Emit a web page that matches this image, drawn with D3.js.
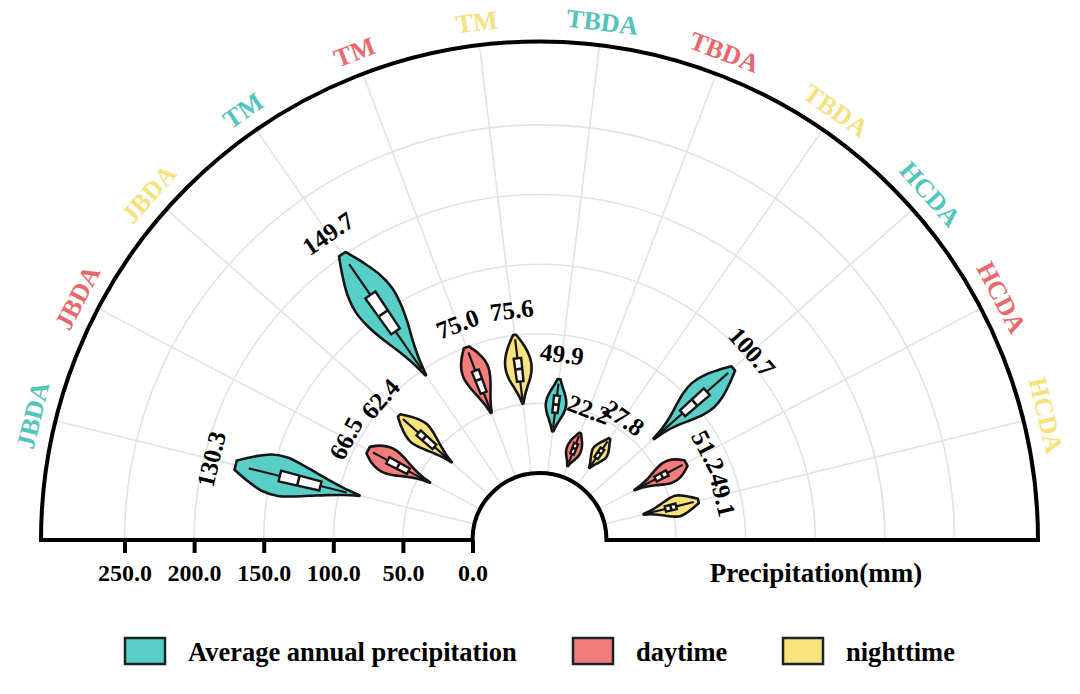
<!DOCTYPE html>
<html>
<head>
<meta charset="utf-8">
<script src="https://cdn.jsdelivr.net/npm/d3@7"></script>
<style>
  body { margin: 0; background: #fff; }
  text { font-family: "Liberation Serif", "Times New Roman", serif; font-weight: bold; }
</style>
</head>
<body>
<div id="viz_area"></div>
<script>
var width = 1080
var height = 694
var cx = 539.5, cy = 540
var innerR = 67, outerR = 498.5

// one violin per region x period, left to right around the half circle
var regions = ["JBDA", "JBDA", "JBDA", "TM", "TM", "TM", "TBDA", "TBDA", "TBDA", "HCDA", "HCDA", "HCDA"]
var periods = ["Average annual precipitation", "daytime", "nighttime"]
var periodIdx = [0, 1, 2, 0, 1, 2, 0, 1, 2, 0, 1, 2]

var vMin    = [85.1, 40.7, 36.2, 95.8, 49.6, 50.6, 30.5,  8.8, 14.9,  61.6, 29.0, 28.9]
var vMax    = [176.7, 90.9, 86.7, 201.4, 99.9, 100.3, 68.3, 34.1, 40.4, 137.8, 70.8, 69.4]
var whiskLo = [94.5, 44.0, 40.0, 101.0, 52.0, 53.0, 33.0, 11.0, 17.0, 66.0, 32.0, 32.0]
var q1      = [114.0, 58.3, 52.7, 134.0, 65.1, 66.6, 43.9, 18.0, 23.5, 89.2, 46.0, 45.0]
var median  = [130.3, 66.5, 62.4, 149.7, 75.0, 75.6, 49.9, 22.2, 27.8, 100.7, 51.2, 49.1]
var q3      = [144.0, 75.0, 67.9, 165.8, 81.9, 83.4, 56.3, 26.0, 31.5, 112.5, 55.5, 53.0]
var whiskHi = [167.0, 87.0, 83.0, 192.6, 96.0, 97.0, 65.0, 32.0, 38.0, 133.0, 68.0, 66.0]

// relative violin width at 9 evenly spaced values from vMin to vMax
var density = [
  [0.03, 0.22, 0.45, 0.68, 0.88, 1.00, 0.90, 0.58, 0.20],
  [0.03, 0.15, 0.35, 0.60, 0.85, 1.00, 0.95, 0.70, 0.25],
  [0.03, 0.20, 0.45, 0.70, 0.92, 1.00, 0.82, 0.50, 0.12],
  [0.03, 0.25, 0.52, 0.80, 0.97, 1.00, 0.82, 0.50, 0.15],
  [0.05, 0.25, 0.50, 0.75, 0.93, 1.00, 0.88, 0.58, 0.18],
  [0.05, 0.30, 0.60, 0.88, 1.00, 0.95, 0.75, 0.45, 0.10],
  [0.08, 0.35, 0.65, 0.90, 1.00, 0.90, 0.65, 0.35, 0.12],
  [0.08, 0.35, 0.70, 0.95, 1.00, 0.90, 0.70, 0.40, 0.12],
  [0.06, 0.30, 0.60, 0.85, 1.00, 0.90, 0.65, 0.35, 0.10],
  [0.05, 0.18, 0.42, 0.72, 0.95, 1.00, 0.82, 0.50, 0.15],
  [0.04, 0.15, 0.35, 0.60, 0.85, 1.00, 0.95, 0.68, 0.25],
  [0.04, 0.20, 0.42, 0.68, 0.90, 1.00, 0.80, 0.50, 0.18]
]

var tickValues = [0, 50, 100, 150, 200, 250]
var cmap = ["#57CFC7", "#F47C7A", "#F8E37E"]
var labelColors = ["#52C4BB", "#E8686B", "#F5E27E"]

var svg = d3.select("#viz_area")
  .append("svg")
  .attr("width", width)
  .attr("height", height)
  .attr("viewBox", [0, 0, width, height])
  .style("background-color", "white")

var scA = d3.scalePoint()
  .domain(d3.range(regions.length))
  .range([-Math.PI / 2, Math.PI / 2])
  .padding(1)

var scR = d3.scaleLinear()
  .domain([0, 310])
  .range([innerR, outerR])

var step = scA.step()
var halfW = 0.31 * step
var boxW = 0.085 * step

var g = svg.append("g").attr("transform", `translate(${cx},${cy})`)

var radialLine = d3.lineRadial().angle(d => d[0]).radius(d => d[1])

// grid
var grid = g.append("g")
  .attr("fill", "none")
  .attr("stroke", "#e3e3e3")
  .attr("stroke-width", 1.6)

grid.selectAll(".garc")
  .data(tickValues.slice(1))
  .enter().append("path")
  .attr("class", "garc")
  .attr("d", function (d) {
    var p = d3.path()
    p.arc(0, 0, scR(d), Math.PI, 2 * Math.PI)
    return p.toString()
  })

grid.selectAll(".gray")
  .data(d3.range(regions.length))
  .enter().append("path")
  .attr("class", "gray")
  .attr("d", i => radialLine([[scA(i), innerR], [scA(i), outerR]]))

// panel border
g.append("path")
  .attr("d", d3.arc()({ innerRadius: innerR, outerRadius: outerR, startAngle: -Math.PI / 2, endAngle: Math.PI / 2 }))
  .attr("fill", "none")
  .attr("stroke", "black")
  .attr("stroke-width", 4)

// violins: each side is a smooth curve, the two ends stay sharp
var sideLine = d3.lineRadial()
  .angle(d => d[0])
  .radius(d => d[1])
  .curve(d3.curveCatmullRom.alpha(0.5))

function violinPath(i) {
  var dens = density[i]
  var n = dens.length
  var a = scA(i)
  var right = [], left = []
  for (let j = 0; j < n; j++) {
    var v = vMin[i] + (vMax[i] - vMin[i]) * j / (n - 1)
    right.push([a + dens[j] * halfW, scR(v)])
    left.unshift([a - dens[j] * halfW, scR(v)])
  }
  return sideLine(right) + sideLine(left).replace(/^M/, "L") + "Z"
}

var vg = g.append("g")
vg.selectAll(".violin")
  .data(d3.range(regions.length))
  .enter().append("path")
  .attr("class", "violin")
  .attr("d", violinPath)
  .attr("fill", i => cmap[periodIdx[i]])
  .attr("stroke", "#151515")
  .attr("stroke-width", 2.6)
  .attr("stroke-linejoin", "round")

// whiskers
vg.selectAll(".whisk")
  .data(d3.range(regions.length))
  .enter().append("path")
  .attr("class", "whisk")
  .attr("d", i => radialLine([[scA(i), scR(whiskLo[i])], [scA(i), scR(q1[i])]]) +
                  radialLine([[scA(i), scR(q3[i])], [scA(i), scR(whiskHi[i])]]))
  .attr("fill", "none")
  .attr("stroke", "#151515")
  .attr("stroke-width", 2.2)

// boxes
vg.selectAll(".box")
  .data(d3.range(regions.length))
  .enter().append("path")
  .attr("class", "box")
  .attr("d", i => d3.arc()({ innerRadius: scR(q1[i]), outerRadius: scR(q3[i]), startAngle: scA(i) - boxW, endAngle: scA(i) + boxW }))
  .attr("fill", "white")
  .attr("stroke", "#151515")
  .attr("stroke-width", 2.4)

vg.selectAll(".med")
  .data(d3.range(regions.length))
  .enter().append("path")
  .attr("class", "med")
  .attr("d", i => radialLine([[scA(i) - boxW, scR(median[i])], [scA(i) + boxW, scR(median[i])]]))
  .attr("stroke", "#151515")
  .attr("stroke-width", 2.6)

// value labels
function polarXY(a, r) {
  return [r * Math.sin(a), -r * Math.cos(a)]
}

g.append("g").selectAll("text")
  .data(d3.range(regions.length))
  .enter().append("text")
  .attr("transform", function (i) {
    var p = polarXY(scA(i), scR(vMax[i]) + 25)
    return `translate(${p[0]},${p[1]}) rotate(${scA(i) * 180 / Math.PI})`
  })
  .attr("text-anchor", "middle")
  .attr("dominant-baseline", "central")
  .style("font-size", "25px")
  .attr("fill", "black")
  .text(i => d3.format(".1f")(median[i]))

// category labels
g.append("g").selectAll("text")
  .data(d3.range(regions.length))
  .enter().append("text")
  .attr("transform", function (i) {
    var p = polarXY(scA(i), outerR + 23)
    return `translate(${p[0]},${p[1]}) rotate(${scA(i) * 180 / Math.PI})`
  })
  .attr("text-anchor", "middle")
  .attr("dominant-baseline", "central")
  .style("font-size", "26px")
  .attr("fill", i => labelColors[periodIdx[i]])
  .text(i => regions[i])

// radial axis along the left baseline
var scX = d3.scaleLinear()
  .domain(scR.domain())
  .range([cx - innerR, cx - outerR])

svg.append("g")
  .attr("transform", `translate(0,${cy})`)
  .call(d3.axisBottom(scX).tickValues(tickValues).tickFormat(d3.format(".1f")).tickSize(13).tickPadding(11))
  .call(a => a.select(".domain").remove())
  .call(a => a.selectAll("line").attr("stroke", "black").attr("stroke-width", 4))
  .call(a => a.selectAll("text")
    .attr("fill", "black")
    .style("font-size", "24px")
    .style("font-family", "\"Liberation Serif\", \"Times New Roman\", serif")
    .style("font-weight", "bold"))

svg.append("text")
  .attr("x", 816)
  .attr("y", 582)
  .attr("text-anchor", "middle")
  .style("font-size", "27px")
  .attr("fill", "black")
  .text("Precipitation(mm)")

// legend
var legendX = [125, 573, 783]
var legend = svg.append("g")
legend.selectAll("rect")
  .data(periods)
  .enter().append("rect")
  .attr("x", (d, i) => legendX[i])
  .attr("y", 638)
  .attr("width", 40)
  .attr("height", 26)
  .attr("fill", (d, i) => cmap[i])
  .attr("stroke", "#1a2424")
  .attr("stroke-width", 2.5)

legend.selectAll("text")
  .data(periods)
  .enter().append("text")
  .attr("x", (d, i) => legendX[i] + 63)
  .attr("y", 661)
  .style("font-size", "26.5px")
  .attr("fill", "black")
  .text(d => d)
</script>
</body>
</html>
